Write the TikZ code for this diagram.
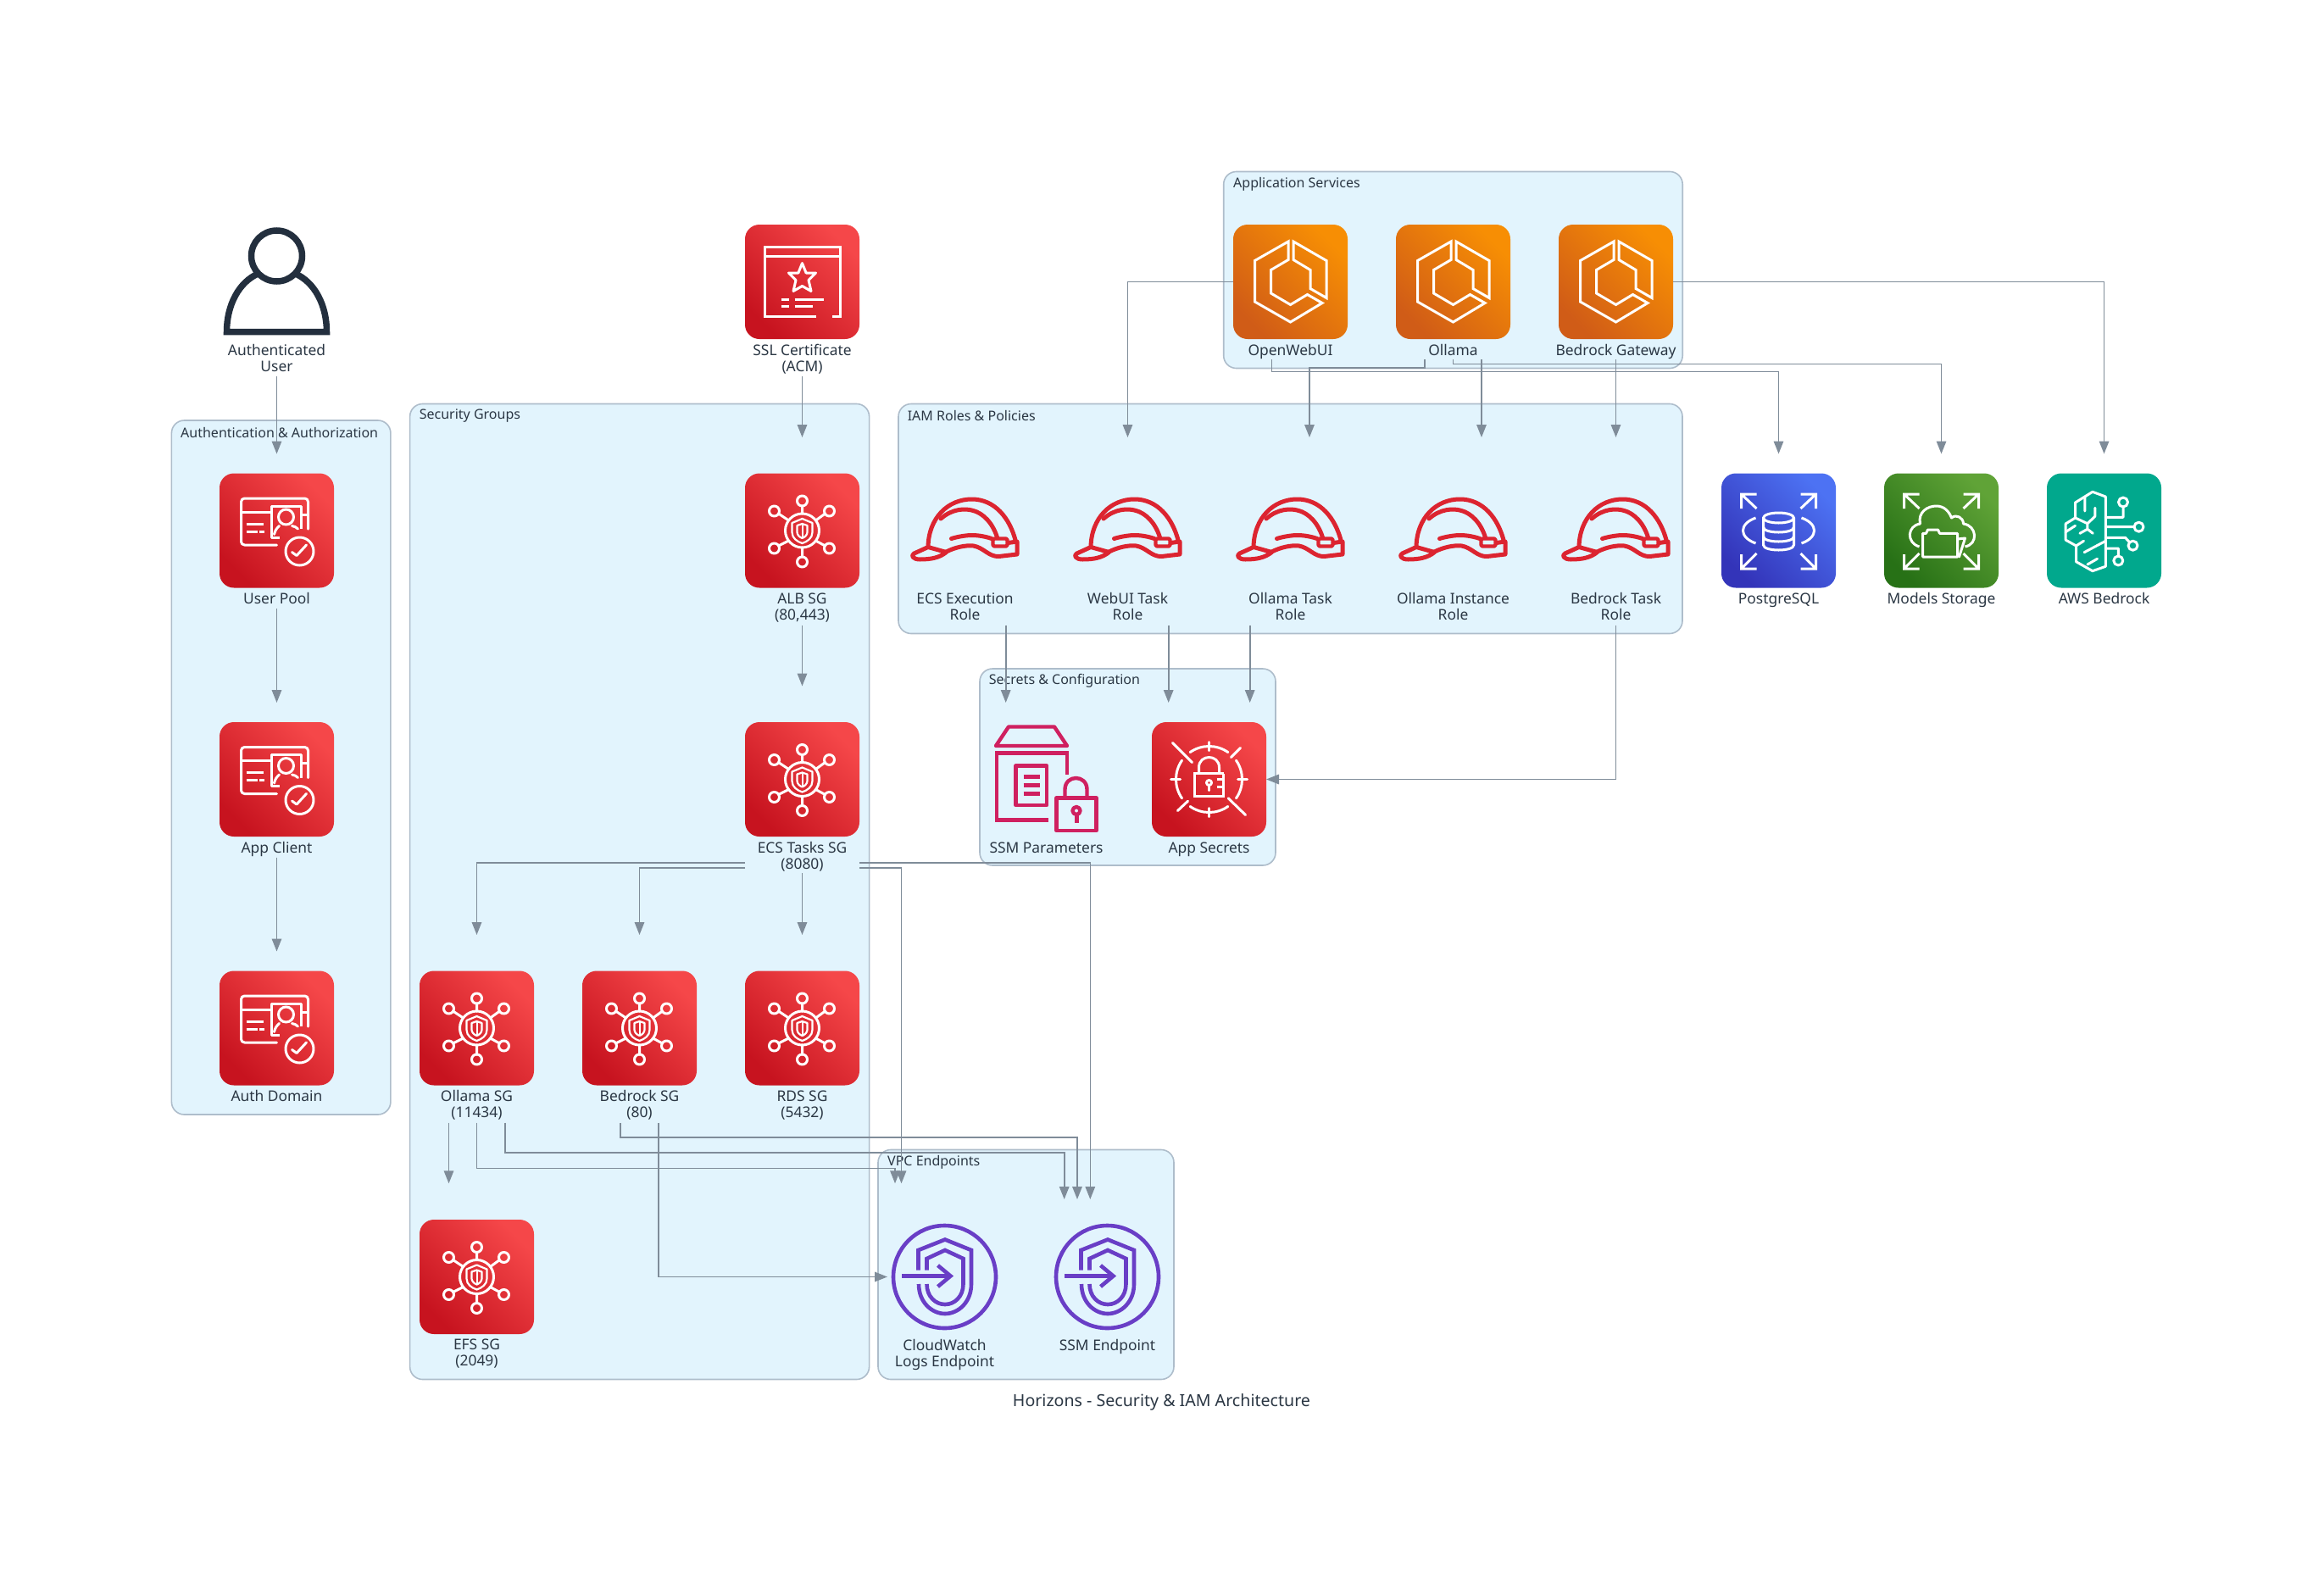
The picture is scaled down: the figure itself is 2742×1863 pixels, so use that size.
\documentclass[tikz,border=0pt]{standalone}
\usepackage{fontspec}
\setmainfont{Noto Sans}
\usetikzlibrary{arrows.meta}
\definecolor{grpfill}{HTML}{E2F4FD}
\definecolor{grpline}{HTML}{AEBDCB}
\definecolor{edgecol}{HTML}{7F8C99}
\definecolor{txtcol}{HTML}{2B3744}
\definecolor{inkcol}{HTML}{232F3E}
\definecolor{hatcol}{HTML}{DC2430}
\definecolor{pinkcol}{HTML}{CF2060}
\definecolor{purpcol}{HTML}{693EC6}
\definecolor{redA}{HTML}{BD0816}\definecolor{redB}{HTML}{FF5252}
\definecolor{orgA}{HTML}{C8511B}\definecolor{orgB}{HTML}{FF9900}
\definecolor{bluA}{HTML}{2E27AD}\definecolor{bluB}{HTML}{527FFF}
\definecolor{grnA}{HTML}{1B660F}\definecolor{grnB}{HTML}{6CAE3E}
\definecolor{tealC}{HTML}{01A88D}
\tikzset{
  grp/.style={draw=grpline,fill=grpfill,line width=1.6pt,rounded corners=15pt,anchor=north west,inner sep=0pt,outer sep=0pt},
  grplab/.style={font=\fontsize{16}{19}\selectfont,text=txtcol,anchor=west,inner sep=0pt},
  icon/.style={minimum width=135pt,minimum height=135pt,inner sep=0pt,outer sep=0pt,rounded corners=17pt},
  bare/.style={},
  redbg/.style={draw=none,top color=redB!85!redA,bottom color=redA!85!redB,shading angle=-45},
  orgbg/.style={draw=none,top color=orgB!85!orgA,bottom color=orgA!85!orgB,shading angle=-45},
  blubg/.style={draw=none,top color=bluB!85!bluA,bottom color=bluA!85!bluB,shading angle=-45},
  grnbg/.style={draw=none,top color=grnB!85!grnA,bottom color=grnA!85!grnB,shading angle=-45},
  tealbg/.style={draw=none,fill=tealC},
  lab/.style={font=\fontsize{17.4}{19}\selectfont,text=txtcol,align=center,anchor=north,inner sep=0pt,execute at begin node=\strut},
  edge/.style={draw=edgecol,line width=1.6pt,-{Triangle[length=15pt,width=11.5pt]},line join=miter},
  wline/.style={draw=white,line width=3pt,line join=round,line cap=round},
  pics/sgicon/.style={code={
    \foreach \a/\b in {0/-35,32/-23,-33/-23,-33/21,32/21,0/37}{\path[wline] (\a,\b) circle[radius=6pt];}
    \path[wline] (0,-29)--(0,-20) (0,31)--(0,20) (27,-20)--(16,-12) (-28,-20)--(-16,-12) (-28,18)--(-16,12) (27,18)--(16,12);
    \path[wline] (0,0) circle[radius=20pt];
    \path[wline,line width=2.2pt] (0,-14)--(12,-9)--(12,2) .. controls (12,9) and (6,13) .. (0,15) .. controls (-6,13) and (-12,9) .. (-12,2)--(-12,-9)--cycle;
    \path[wline,line width=2.2pt] (0,-8)--(6,-6)--(6,2) .. controls (6,5) and (3,8) .. (0,9) .. controls (-3,8) and (-6,5) .. (-6,2)--(-6,-6)--cycle;
    \path[wline,line width=2pt] (0,-7)--(0,8);
  }},
  pics/acmicon/.style={code={
    \path[wline,line cap=butt,line join=miter] (16,41)--(-44,41)--(-44,-41)--(45,-41)--(45,41)--(35,41);
    \path[wline,line cap=butt] (-44,-30)--(45,-30);
    \path[wline] (0,-22)--(4.6,-10.5)--(16,-10.5)--(7.5,-2)--(10.5,11)--(0,5)--(-10.5,11)--(-7.5,-2)--(-16,-10.5)--(-4.6,-10.5)--cycle;
    \path[wline,line cap=butt] (-25,21)--(-16,21) (-9,21)--(25,21) (-25,28.5)--(-16,28.5) (-9,28.5)--(12,28.5);
  }},
  pics/userpoolicon/.style={code={
    \path[wline,rounded corners=4pt] (0,17)--(-42,17)--(-42,-38)--(37,-38)--(37,-2);
    \path[wline,line cap=butt] (-42,-22)--(-7,-22);
    \path[wline,line cap=butt] (3.5,8)--(-6.5,8)--(-6.5,-29)--(28.5,-29)--(28.5,-2) (28.5,-19)--(37,-19);
    \path[wline] (11,-16) circle[radius=9pt];
    \path[wline] (-3,4.5) .. controls (-2,0) and (0,-3) .. (3,-5.5) (18,-5.5) .. controls (21,-5) and (23,-4) .. (25,-2);
    \path[wline,line cap=butt] (-36,-8)--(-16,-8) (-36,1)--(-23,1) (-21,1)--(-15,1);
    \path[wline] (27,24.5) circle[radius=16.5pt];
    \path[wline] (18,25.5)--(23.5,29.5)--(35,17);
  }},
  pics/ecsicon/.style={code={
    \path[wline,line width=3pt,line join=miter] (-2.5,-47.5)--(-42,-25)--(-42,23.5)--(0,47.5)--(37.5,25)--(20,15)--(0,27)--(-23,13.5)--(-23,-14)--(-2.5,-26)--cycle;
    \path[wline,line width=3pt,line join=miter] (3.5,-47.5)--(42.5,-25)--(42.5,19)--(23.5,8)--(23.5,-14)--(3.5,-26)--cycle;
  }},
  pics/haticon/.style={code={
    \begin{scope}[line width=5pt,line join=round,line cap=round]
    \draw[hatcol] (-43.5,19.5) .. controls (-43,-15) and (-20,-37) .. (8,-37) .. controls (35,-37) and (53,-15) .. (60,13);
    \draw[hatcol] (-28.5,-14) .. controls (-15,-26) and (0,-26) .. (8,-24) .. controls (22,-21) and (33,-8) .. (38,8);
    \draw[hatcol] (-22,25) .. controls (-12,20) and (0,17) .. (10,18) .. controls (22,20) and (28,31) .. (40,30.5) -- (61.5,28) -- (61.5,13) -- (51,14.5);
    \draw[hatcol] (-43.5,19.5) -- (-22,25.5) .. controls (-30,32) and (-40,34) .. (-53,34) .. controls (-62,34) and (-64,29) .. (-60,27) -- cycle;
    \draw[hatcol] (-16,9.5) .. controls (-8,7) and (2,5.5) .. (8,5.5) .. controls (16,5.5) and (24,7) .. (31.5,9.5);
    \draw[hatcol,line width=4.4pt,rounded corners=1.5pt] (33,9.5) rectangle (50,18.5);
    \end{scope}
  }},
  pinkl/.style={draw=pinkcol,line width=4.4pt,line join=round},
  pics/ssmicon/.style={code={
    \path[pinkl] (-59.5,-39.5)--(-44.5,-62)--(9.5,-62)--(24.5,-39.5)--cycle;
    \path[pinkl,line join=miter] (24.5,-6)--(24.5,-31)--(-58.5,-31)--(-58.5,48)--(2.2,48);
    \path[pinkl] (-36,-16) rectangle (0.5,30.5);
    \path[pinkl,line width=4.6pt] (-27,-3)--(-8,-3) (-27,7)--(-8,7) (-27,17)--(-8,17);
    \path[pinkl] (12,22) rectangle (59,60.5);
    \path[pinkl] (22,22)--(22,12) .. controls (22,-6) and (48,-6) .. (48,12)--(48,22);
    \path[pinkl] (35.5,37) circle[radius=4.5pt];
    \path[pinkl,line width=5pt] (35.5,41)--(35.5,51);
  }},
  pics/secreticon/.style={code={
    \foreach \s/\e in {55/125,145/215,235/305,-35/35}{\path[wline] (\s:39pt) arc[start angle=\s,end angle=\e,radius=39pt];}
    \path[wline] (0,-44)--(0,-34) (0,34)--(0,44) (-45,0)--(-34,0) (34,0)--(45,0);
    \path[wline] (-43,-43)--(-20,-20) (37,-37)--(26,-26) (-37,37)--(-25,25.7) (22.7,22.3)--(43,42);
    \path[wline,line cap=butt,line join=miter] (17,-7)--(-17,-7)--(-17,20)--(17,20)--(17,-7);
    \path[wline] (-12,-7)--(-12,-14) .. controls (-12,-30) and (12,-30) .. (12,-14)--(12,-7);
    \path[wline] (0,4) circle[radius=3pt];
    \path[wline] (0,7)--(0,13);
    \path[wline,line cap=butt] (9,0)--(17,0) (9,9)--(17,9);
  }},
  purpl/.style={draw=purpcol,line width=4.6pt,line join=miter},
  pics/vpceicon/.style={code={
    \path[purpl,line width=4.6pt] (0,0) circle[radius=60.5pt];
    \path[purpl] (-31,-8)--(-31,-31.5)--(0.5,-44)--(31.5,-31.5)--(31.5,8.5) .. controls (31.5,30) and (16,43.5) .. (0.5,43.5) .. controls (-15,43.5) and (-30.5,30) .. (-30.5,8.5);
    \path[purpl] (-21,-8)--(-21,-21.5)--(0.5,-31.5)--(22,-21.5)--(22,8.5) .. controls (22,23) and (12,32.5) .. (0.5,32.5) .. controls (-11,32.5) and (-21,23) .. (-21,8.5);
    \path[purpl,line cap=butt] (-50.5,-1)--(6,-1);
    \path[purpl,line cap=butt] (-8,-13.5)--(7,-1)--(-8,11.5);
  }},
  pics/rdsicon/.style={code={
    \path[wline] (0,-15) ellipse[x radius=18pt,y radius=6pt];
    \path[wline] (-18,-15)--(-18,17) .. controls (-18,25) and (18,25) .. (18,17)--(18,-15);
    \path[wline] (-18,-4) .. controls (-18,4) and (18,4) .. (18,-4) (-18,7) .. controls (-18,15) and (18,15) .. (18,7);
    \path[wline,line cap=butt] (-27,-15) .. controls (-47,-8) and (-47,8) .. (-27,15) (27,-15) .. controls (47,-8) and (47,8) .. (27,15);
    \foreach \sx in {-1,1}{\path[wline,line cap=butt,line join=miter] (\sx*26,-26)--(\sx*44,-43) (\sx*44,-26)--(\sx*44,-43)--(\sx*26,-43) (\sx*26,27)--(\sx*44,45) (\sx*44,28)--(\sx*44,45)--(\sx*26,45);}
  }},
  pics/efsicon/.style={code={
    \foreach \sx in {-1,1}{\path[wline,line cap=butt,line join=miter] (\sx*26,-26)--(\sx*44,-43) (\sx*44,-26)--(\sx*44,-43)--(\sx*26,-43) (\sx*26,27)--(\sx*44,45) (\sx*44,28)--(\sx*44,45)--(\sx*26,45);}
    \path[wline,line cap=butt] (-26,19) .. controls (-42,14) and (-40,-6) .. (-25,-8) .. controls (-28,-22) and (-16,-29) .. (-6,-29) .. controls (3,-29) and (9,-23) .. (12,-15) .. controls (18,-20) and (26,-15) .. (26,-8) .. controls (42,-6) and (44,16) .. (28,19);
    \path[wline] (-22,31)--(-22,3.3)--(-18,3.3)--(-16,-1)--(-4,-1)--(-2,3.3)--(19,3.3)--(19,31)--cycle;
    \path[wline] (19,10)--(28,9)--(21,31);
  }},
  pics/bedrockicon/.style={code={
    \path[wline] (-13.6,-45.7)--(-34,-33)--(-34,-15)--(-45.4,-8)--(-45.4,11)--(-33,18)--(-33,36.7)--(-13.6,47.7)--(1.8,42.3)--(1.8,-40)--cycle;
    \path[wline] (-22.7,-40)--(-22.7,-23) (-10.7,-26.7)--(-10.7,-16.7)--(-19.6,-8.3)--(-19.6,-1.7) (-28.6,3.3)--(-19.6,-1.7)--(-13.2,3.3) (-34,-15)--(-19.6,-8.3) (-45.4,1.7)--(-34,-5.7) (-33,18)--(-24,12.3) (-23.4,25.7)--(1.8,12.3) (-19.6,40)--(-8,33.3);
    \path[wline] (1.8,-15.7)--(22.5,-15.7)--(22.5,-28) (1.8,-4.3)--(35,-4.3) (1.8,8.3)--(25,8.3)--(29.6,13.3) (1.8,21)--(16.8,21)--(16.8,30);
    \path[wline] (22.5,-33.5) circle[radius=5.5pt];
    \path[wline] (41,-4.3) circle[radius=5.5pt];
    \path[wline] (34,17.7) circle[radius=5.5pt];
    \path[wline] (16.8,35.5) circle[radius=5.5pt];
  }},
  pics/personicon/.style={code={
    \draw[inkcol,line width=7.5pt,line join=miter] (0,-30.5) circle[radius=30pt];
    \draw[inkcol,line width=7.5pt,line join=miter] (-21,-10) .. controls (-45,0) and (-59,28) .. (-59,59) -- (59,59) .. controls (59,28) and (45,0) .. (21,-10);
  }},
}
\newcommand{\svc}[6]{%
  \node[icon,#5] (#1) at (#2,#3) {};
  \pic at (#1) {#4};
  \node[lab] (#1L) at ([yshift=-5.7pt]#1.south) {#6};}
\begin{document}
\begin{tikzpicture}[x=1pt,y=-1pt]
\path[fill=white,use as bounding box] (0,0) rectangle (2742,1863);
% groups
\node[grp,minimum width=541.5pt,minimum height=232pt] (gApp) at (1443.7,202.5) {};
\node[grp,minimum width=925pt,minimum height=271pt] (gIam) at (1060,476.5) {};
\node[grp,minimum width=349pt,minimum height=232pt] (gSec) at (1156,789) {};
\node[grp,minimum width=258.5pt,minimum height=819pt] (gAuth) at (202.4,496) {};
\node[grp,minimum width=542pt,minimum height=1151pt] (gSg) at (483.6,476.5) {};
\node[grp,minimum width=349pt,minimum height=271pt] (gVpc) at (1036,1356.5) {};
\node[grplab] (tApp) at (1455,217.4) {Application Services};
\node[grplab] (tIam) at (1070.6,490.8) {IAM Roles \& Policies};
\node[grplab] (tSec) at (1166.7,803.5) {Secrets \& Configuration};
\node[grplab] (tAuth) at (213,510) {Authentication \& Authorization};
\node[grplab] (tSg) at (494.6,491) {Security Groups};
\node[grplab] (tVpc) at (1047,1371) {VPC Endpoints};
% nodes
\svc{user}{326.5}{332.5}{personicon}{bare}{Authenticated\\User}
\svc{userpool}{326.5}{626}{userpoolicon}{redbg}{User Pool}
\svc{appclient}{326.5}{919.5}{userpoolicon}{redbg}{App Client}
\svc{authdomain}{326.5}{1213}{userpoolicon}{redbg}{Auth Domain}
\svc{acm}{946.5}{332.5}{acmicon}{redbg}{SSL Certificate\\(ACM)}
\svc{albsg}{946.5}{626}{sgicon}{redbg}{ALB SG\\(80,443)}
\svc{ecssg}{946.5}{919.5}{sgicon}{redbg}{ECS Tasks SG\\(8080)}
\svc{ollamasg}{562.5}{1213}{sgicon}{redbg}{Ollama SG\\(11434)}
\svc{bedrocksg}{754.5}{1213}{sgicon}{redbg}{Bedrock SG\\(80)}
\svc{rdssg}{946.5}{1213}{sgicon}{redbg}{RDS SG\\(5432)}
\svc{efssg}{562.5}{1506.5}{sgicon}{redbg}{EFS SG\\(2049)}
\svc{openwebui}{1522.5}{332.5}{ecsicon}{orgbg}{OpenWebUI}
\svc{ollama}{1714.5}{332.5}{ecsicon}{orgbg}{Ollama}
\svc{gateway}{1906.5}{332.5}{ecsicon}{orgbg}{Bedrock Gateway}
\svc{ecsrole}{1138.5}{626}{haticon}{bare}{ECS Execution\\Role}
\svc{webuirole}{1330.5}{626}{haticon}{bare}{WebUI Task\\Role}
\svc{ollamarole}{1522.5}{626}{haticon}{bare}{Ollama Task\\Role}
\svc{instancerole}{1714.5}{626}{haticon}{bare}{Ollama Instance\\Role}
\svc{bedrockrole}{1906.5}{626}{haticon}{bare}{Bedrock Task\\Role}
\svc{ssmparams}{1234.5}{919.5}{ssmicon}{bare}{SSM Parameters}
\svc{appsecrets}{1426.5}{919.5}{secreticon}{redbg}{App Secrets}
\svc{postgres}{2098.5}{626}{rdsicon}{blubg}{PostgreSQL}
\svc{models}{2290.5}{626}{efsicon}{grnbg}{Models Storage}
\svc{awsbedrock}{2482.5}{626}{bedrockicon}{tealbg}{AWS Bedrock}
\svc{cwlogs}{1114.5}{1506.5}{vpceicon}{bare}{CloudWatch\\Logs Endpoint}
\svc{ssmep}{1306.5}{1506.5}{vpceicon}{bare}{SSM Endpoint}
\node[font=\fontsize{19.6}{24}\selectfont,text=txtcol,inner sep=0pt,anchor=base] (title) at (1370.5,1659) {Horizons - Security \& IAM Architecture};
% connectors
\draw[edge] ([yshift=-43.5pt]user.south) -- ([yshift=23pt]userpool.north);
\draw[edge] ([yshift=-24.5pt]userpool.south) -- ([yshift=23pt]appclient.north);
\draw[edge] ([yshift=-24.5pt]appclient.south) -- ([yshift=23pt]authdomain.north);
\draw[edge] ([yshift=-43.5pt]acm.south) -- ([yshift=42.5pt]albsg.north);
\draw[edge] ([yshift=-44pt]albsg.south) -- ([yshift=42.5pt]ecssg.north);
\draw[edge] ([yshift=-43pt]ecssg.south) -- ([yshift=42.5pt]rdssg.north);
\draw[edge] ([yshift=-31pt]ecssg.south west) -| ([yshift=42.5pt]ollamasg.north);
\draw[edge] ([yshift=-37pt]ecssg.south west) -| ([yshift=42.5pt]bedrocksg.north);
\draw[edge] ([yshift=-31pt]ecssg.south east) -| ([xshift=-20.2pt,yshift=24pt]ssmep.north);
\draw[edge] ([yshift=-37pt]ecssg.south east) -| ([xshift=-51pt,yshift=42.7pt]cwlogs.north);
\draw[edge] ([xshift=-33pt,yshift=-44pt]ollamasg.south) -- ([xshift=-33pt,yshift=42.7pt]efssg.north);
\draw[edge] ([yshift=-44pt]ollamasg.south) -- ++(0,54) -| ([xshift=-58.5pt,yshift=42.7pt]cwlogs.north);
\draw[edge] ([xshift=33.5pt,yshift=-44pt]ollamasg.south) -- ++(0,35.4) -| ([xshift=-50.8pt,yshift=24pt]ssmep.north);
\draw[edge] ([xshift=-22.5pt,yshift=-44pt]bedrocksg.south) -- ++(0,17.7) -| ([xshift=-35.5pt,yshift=24pt]ssmep.north);
\draw[edge] ([xshift=22.3pt,yshift=-44pt]bedrocksg.south) |- (cwlogs.west);
\draw[edge] (openwebui.west) -| ([yshift=42.5pt]webuirole.north);
\draw[edge] ([xshift=-33.5pt,yshift=-24pt]ollama.south) -- ++(0,10) -| ([xshift=22.5pt,yshift=42.5pt]ollamarole.north);
\draw[edge] ([xshift=33.5pt,yshift=-24pt]ollama.south) -- ([xshift=33.5pt,yshift=42.5pt]instancerole.north);
\draw[edge] ([yshift=-24pt]gateway.south) -- ([yshift=42.5pt]bedrockrole.north);
\draw[edge] ([xshift=-22pt,yshift=-24pt]openwebui.south) -- ++(0,14.5) -| ([yshift=23pt]postgres.north);
\draw[edge] ([yshift=-24pt]ollama.south) -- ++(0,5.5) -| ([yshift=23pt]models.north);
\draw[edge] (gateway.east) -| ([yshift=23pt]awsbedrock.north);
\draw[edge] ([xshift=48.2pt,yshift=-44pt]ecsrole.south) -- ([xshift=-47.8pt,yshift=23pt]ssmparams.north);
\draw[edge] ([xshift=48.2pt,yshift=-44pt]webuirole.south) -- ([xshift=-47.8pt,yshift=23pt]appsecrets.north);
\draw[edge] ([xshift=-47.8pt,yshift=-44pt]ollamarole.south) -- ([xshift=48.2pt,yshift=23pt]appsecrets.north);
\draw[edge] ([yshift=-44pt]bedrockrole.south) |- (appsecrets.east);
\end{tikzpicture}
\end{document}
